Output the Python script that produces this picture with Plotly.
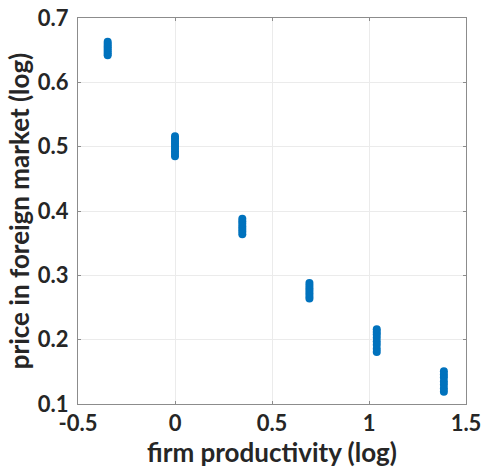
import plotly.graph_objects as go

# firm productivity (log) for each cluster
x_levels = [-0.347, 0.0, 0.347, 0.693, 1.040, 1.386]
# prices in foreign market (log) per productivity level
y_c1 = [0.642, 0.645, 0.648, 0.651, 0.654, 0.657, 0.660, 0.663]
y_c2 = [0.485, 0.489, 0.493, 0.497, 0.501, 0.505, 0.509, 0.513, 0.516]
y_c3 = [0.364, 0.368, 0.372, 0.376, 0.380, 0.384, 0.388]
y_c4 = [0.264, 0.268, 0.272, 0.276, 0.280, 0.284, 0.288]
y_c5 = [0.181, 0.186, 0.192, 0.197, 0.203, 0.208, 0.212, 0.216]
y_c6 = [0.119, 0.124, 0.130, 0.135, 0.141, 0.146, 0.151]
clusters = [y_c1, y_c2, y_c3, y_c4, y_c5, y_c6]

xs, ys = [], []
for xv, yl in zip(x_levels, clusters):
    for yv in yl:
        xs.append(xv)
        ys.append(yv)

fig = go.Figure()
fig.add_trace(go.Scatter(
    x=xs, y=ys, mode="markers",
    marker=dict(color="#0072BD", size=8, line=dict(width=0)),
    showlegend=False,
))

font_family = "Lato"
axis_common = dict(
    showline=True, linecolor="#8c8c8c", linewidth=1, mirror="ticks",
    ticks="inside", ticklen=3, tickcolor="#8c8c8c",
    showgrid=True, gridcolor="#ebebeb", gridwidth=1,
    zeroline=False, automargin=False, ticklabeloverflow="allow",
    tickfont=dict(family=font_family, size=22, color="#262626", weight="bold"),
)

fig.update_xaxes(
    range=[-0.5, 1.5], tickvals=[-0.5, 0, 0.5, 1, 1.5],
    ticktext=["-0.5", "0", "0.5", "1", "1.5"],
    ticklabelstandoff=0,
    title=dict(text="firm productivity (log)", standoff=4,
               font=dict(family=font_family, size=26, color="#262626", weight="bold")),
    **axis_common,
)
fig.update_yaxes(
    range=[0.1, 0.7], tickvals=[0.1, 0.2, 0.3, 0.4, 0.5, 0.6, 0.7],
    ticktext=["0.1", "0.2", "0.3", "0.4", "0.5", "0.6", "0.7"],
    ticklabelstandoff=4,
    title=dict(text="price in foreign market (log)", standoff=0,
               font=dict(family=font_family, size=26, color="#262626", weight="bold")),
    **axis_common,
)

fig.update_layout(
    width=481, height=469, autosize=False,
    margin=dict(l=78, r=15, t=18, b=65, autoexpand=False),
    plot_bgcolor="white", paper_bgcolor="white",
)

fig.write_html(
    "out.html",
    config={"displayModeBar": False},
    post_script="document.body.style.margin='0';document.body.style.overflow='hidden';",
)
